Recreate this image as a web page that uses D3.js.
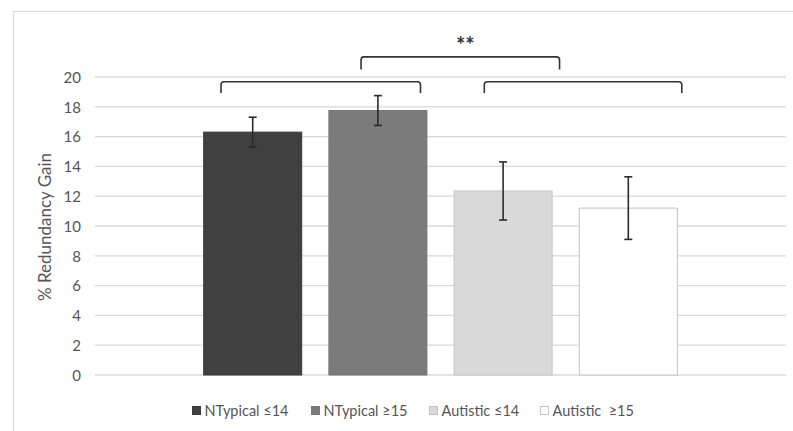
<!DOCTYPE html>
<html>
<head>
<meta charset="utf-8">
<script src="https://cdn.jsdelivr.net/npm/d3@7/dist/d3.min.js"></script>
<style>
  html, body { margin: 0; padding: 0; background: #fff; }
  svg { display: block; }
  text { font-family: Lato, "Open Sans", "Liberation Sans", sans-serif; white-space: pre; }
</style>
</head>
<body>
<svg id="chart" width="793" height="431"></svg>
<script>
// Groups, mean redundancy gain and error-bar half-widths
const groups = ["NTypical ≤14", "NTypical ≥15", "Autistic ≤14", "Autistic  ≥15"];
const values = [16.3, 17.75, 12.35, 11.2];
const errors = [1.0, 1.0, 1.95, 2.1];
const fills = ["#404040", "#7b7b7b", "#d9d9d9", "#ffffff"];
const strokes = ["#3a3a3a", "#777777", "#c4c4c4", "#c4c4c4"];
const yTicks = [0, 2, 4, 6, 8, 10, 12, 14, 16, 18, 20];
const yLabel = "% Redundancy Gain";
const sigLabel = "**";

const svg = d3.select("#chart");
const plot = { left: 95, right: 786, top: 77, bottom: 375 };

// outer frame
svg.append("rect")
  .attr("x", 13.5).attr("y", 11.5)
  .attr("width", 820).attr("height", 450)
  .attr("fill", "none").attr("stroke", "#d9d9d9").attr("stroke-width", 1.2);

const y = d3.scaleLinear().domain([0, 20]).range([plot.bottom, plot.top]);
const x = d3.scaleBand().domain(groups)
  .range([plot.left, plot.right])
  .paddingInner(0.209).paddingOuter(0.864);

// gridlines
svg.append("g").selectAll("line").data(yTicks).join("line")
  .attr("x1", plot.left).attr("x2", plot.right)
  .attr("y1", d => y(d)).attr("y2", d => y(d))
  .attr("stroke", "#d9d9d9").attr("stroke-width", 1.3);

// y axis labels
const yAxis = d3.axisLeft(y).tickValues(yTicks).tickSize(0).tickPadding(0);
const ga = svg.append("g").attr("transform", `translate(81,0)`).call(yAxis);
ga.select(".domain").remove();
ga.selectAll("text")
  .attr("fill", "#555").attr("font-size", 15).attr("dy", "0.35em");

svg.append("text")
  .attr("transform", `translate(51,${(plot.top + plot.bottom) / 2 + 1}) rotate(-90)`)
  .attr("text-anchor", "middle")
  .attr("font-size", 17).attr("fill", "#555")
  .text(yLabel);

// bars
svg.append("g").selectAll("rect").data(groups).join("rect")
  .attr("x", d => x(d) + 0.5)
  .attr("y", (d, i) => y(values[i]))
  .attr("width", x.bandwidth() - 1)
  .attr("height", (d, i) => y(0) - y(values[i]))
  .attr("fill", (d, i) => fills[i])
  .attr("stroke", (d, i) => strokes[i]).attr("stroke-width", 1);

// error bars
const eb = svg.append("g").attr("stroke", "#2b2b2b").attr("stroke-width", 1.6);
groups.forEach((g, i) => {
  const cx = x(g) + x.bandwidth() / 2;
  const hi = y(values[i] + errors[i]), lo = y(values[i] - errors[i]);
  eb.append("line").attr("x1", cx).attr("x2", cx).attr("y1", hi).attr("y2", lo);
  eb.append("line").attr("x1", cx - 4).attr("x2", cx + 4).attr("y1", hi).attr("y2", hi);
  eb.append("line").attr("x1", cx - 4).attr("x2", cx + 4).attr("y1", lo).attr("y2", lo);
});

// significance brackets
function bracket(x1, x2, yTop, yLeg) {
  const r = 3;
  const p = d3.path();
  p.moveTo(x1, yLeg);
  p.lineTo(x1, yTop + r);
  p.quadraticCurveTo(x1, yTop, x1 + r, yTop);
  p.lineTo(x2 - r, yTop);
  p.quadraticCurveTo(x2, yTop, x2, yTop + r);
  p.lineTo(x2, yLeg);
  svg.append("path").attr("d", p.toString())
    .attr("fill", "none").attr("stroke", "#333").attr("stroke-width", 1.6);
}
const bw = x.bandwidth();
bracket(x(groups[0]) + bw * 0.18, x(groups[1]) + bw * 0.93, y(19.68), y(18.92));
bracket(x(groups[2]) + bw * 0.31, x(groups[3]) + bw * 1.04, y(19.68), y(18.92));
bracket(x(groups[1]) + bw * 0.33, x(groups[2]) + bw * 1.07, y(21.35), y(20.5));

svg.append("text")
  .attr("x", (x(groups[1]) + bw * 0.33 + x(groups[2]) + bw * 1.07) / 2 + 5)
  .attr("y", 53)
  .attr("text-anchor", "middle")
  .attr("font-size", 22).attr("font-weight", "bold").attr("fill", "#333")
  .text(sigLabel);

// legend
const legendX = [192, 311, 429, 540];
const lg = svg.append("g");
groups.forEach((g, i) => {
  const item = lg.append("g").attr("transform", `translate(${legendX[i]},411)`);
  item.append("rect").attr("x", 0.5).attr("y", -4.5).attr("width", 8).attr("height", 8)
    .attr("fill", fills[i]).attr("stroke", strokes[i]).attr("stroke-width", 1);
  item.append("text").attr("x", 12.5).attr("y", 0).attr("dy", "0.35em")
    .attr("font-size", 14.5).attr("fill", "#555")
    .text(g);
});
</script>
</body>
</html>
